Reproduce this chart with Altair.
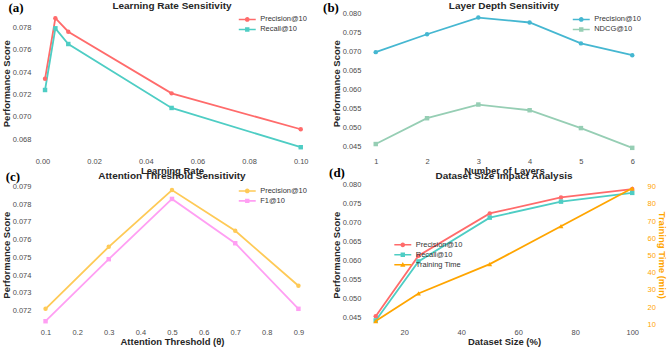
import altair as alt
import pandas as pd

# ---------------- data ----------------
lr_values = [0.001, 0.005, 0.01, 0.05, 0.1]
lr_precision = [0.0734, 0.0788, 0.0776, 0.0721, 0.0689]
lr_recall = [0.0724, 0.0779, 0.0765, 0.0708, 0.0673]

layers = [1, 2, 3, 4, 5, 6]
layer_precision = [0.0699, 0.0746, 0.0790, 0.0777, 0.0722, 0.0691]
layer_ndcg = [0.0457, 0.0525, 0.0561, 0.0546, 0.0499, 0.0447]

thresholds = [0.1, 0.3, 0.5, 0.7, 0.9]
thr_precision = [0.0721, 0.0756, 0.0788, 0.0765, 0.0734]
thr_f1 = [0.0714, 0.0749, 0.0783, 0.0758, 0.0721]

sizes = [10, 25, 50, 75, 100]
size_precision = [0.0454, 0.0613, 0.0724, 0.0766, 0.0788]
size_recall = [0.0443, 0.0598, 0.0713, 0.0755, 0.0778]
train_time = [12, 28, 45, 67, 89]

titles = ["Learning Rate Sensitivity", "Layer Depth Sensitivity",
          "Attention Threshold Sensitivity", "Dataset Size Impact Analysis"]
panel_labels = ["(a)", "(b)", "(c)", "(d)"]

FONT = "Liberation Sans"
W_L, W_R, H = 279, 283, 144

LINE_CIRCLE = "M-2.125,-0.2H2.125V0.2H-2.125Z M0.6,0A0.6,0.6 0 1,1 -0.6,0A0.6,0.6 0 1,1 0.6,0Z"
LINE_SQUARE = "M-2.125,-0.2H2.125V0.2H-2.125Z M-0.55,-0.55H0.55V0.55H-0.55Z"
LINE_TRI = "M-2.125,-0.2H2.125V0.2H-2.125Z M0,-0.7L0.65,0.5H-0.65Z"


def long_df(x, series_dict):
    rows = []
    for name, vals in series_dict.items():
        for xv, yv in zip(x, vals):
            rows.append({"x": xv, "y": yv, "series": name, "lg": name})
    return pd.DataFrame(rows)


def base_layers(df, xenc, yenc, names, colors, shapes):
    cscale = alt.Scale(domain=names, range=colors)
    line = alt.Chart(df).mark_line(strokeWidth=1.8).encode(
        x=xenc, y=yenc,
        color=alt.Color("series:N", scale=cscale, legend=None),
    )
    pts = alt.Chart(df).mark_point(filled=True, opacity=1, size=20).encode(
        x=xenc, y=yenc,
        color=alt.Color("series:N", scale=cscale, legend=None),
        shape=alt.Shape("series:N", scale=alt.Scale(domain=names, range=shapes), legend=None),
    )
    return alt.layer(line, pts)


def legend_layer(df, names, colors, paths, legend):
    return alt.Chart(df).transform_filter("false").mark_point(filled=True, opacity=1).encode(
        color=alt.Color("lg:N", scale=alt.Scale(domain=names, range=colors), legend=legend),
        shape=alt.Shape("lg:N", scale=alt.Scale(domain=names, range=paths), legend=legend),
    )


def label_layer(text, dx, dy):
    return alt.Chart(pd.DataFrame({"lab": [text]})).mark_text(
        font="Liberation Serif", fontSize=13, fontWeight="bold", color="black",
        align="center", baseline="alphabetic",
    ).encode(text="lab:N", x=alt.value(dx), y=alt.value(dy))


def title_layer(text, width, dy):
    return alt.Chart(pd.DataFrame({"t": [text]})).mark_text(
        font=FONT, fontSize=10, fontWeight="bold", color="#262626",
        align="center", baseline="alphabetic",
    ).encode(text="t:N", x=alt.value(width / 2), y=alt.value(dy))


def yaxis(values, fmt, title="Performance Score"):
    return alt.Axis(values=values, format=fmt, title=title)


def leg_tr():
    return alt.Legend(orient="top-right", offset=4, title=None)


# ---------------- panel (a) ----------------
names_a = ["Precision@10", "Recall@10"]
colors_a = ["#FF6B6B", "#4ECDC4"]
df_a = long_df(lr_values, {"Precision@10": lr_precision, "Recall@10": lr_recall})
xa = alt.X("x:Q", scale=alt.Scale(domain=[-0.0037, 0.104], nice=False, zero=False),
           axis=alt.Axis(values=[0, 0.02, 0.04, 0.06, 0.08, 0.10], format=".2f", title="Learning Rate"))
ya = alt.Y("y:Q", scale=alt.Scale(domain=[0.0666, 0.0794], nice=False, zero=False),
           axis=yaxis([0.068, 0.070, 0.072, 0.074, 0.076, 0.078], ".3f"))
pa = alt.layer(
    base_layers(df_a, xa, ya, names_a, colors_a, ["circle", "square"]),
    legend_layer(df_a, names_a, colors_a, [LINE_CIRCLE, LINE_SQUARE], leg_tr()),
    label_layer(panel_labels[0], -17, 1),
    title_layer(titles[0], W_L, -2.5),
).resolve_scale(color="independent", shape="independent").resolve_legend(
    color="independent", shape="independent"
).properties(width=W_L, height=H)

# ---------------- panel (b) ----------------
names_b = ["Precision@10", "NDCG@10"]
colors_b = ["#45B7D1", "#96CEB4"]
df_b = long_df(layers, {"Precision@10": layer_precision, "NDCG@10": layer_ndcg})
xb = alt.X("x:Q", scale=alt.Scale(domain=[0.75, 6.25], nice=False, zero=False),
           axis=alt.Axis(values=layers, format="d", title="Number of Layers"))
yb = alt.Y("y:Q", scale=alt.Scale(domain=[0.0428, 0.0806], nice=False, zero=False),
           axis=yaxis([0.045, 0.050, 0.055, 0.060, 0.065, 0.070, 0.075, 0.080], ".3f"))
pb = alt.layer(
    base_layers(df_b, xb, yb, names_b, colors_b, ["circle", "square"]),
    legend_layer(df_b, names_b, colors_b, [LINE_CIRCLE, LINE_SQUARE], leg_tr()),
    label_layer(panel_labels[1], -32, 1),
    title_layer(titles[1], W_R, -2.5),
).resolve_scale(color="independent", shape="independent").resolve_legend(
    color="independent", shape="independent"
).properties(width=W_R, height=H)

# ---------------- panel (c) ----------------
names_c = ["Precision@10", "F1@10"]
colors_c = ["#FECA57", "#FF9FF3"]
df_c = long_df(thresholds, {"Precision@10": thr_precision, "F1@10": thr_f1})
xc = alt.X("x:Q", scale=alt.Scale(domain=[0.06, 0.94], nice=False, zero=False),
           axis=alt.Axis(values=[0.1, 0.2, 0.3, 0.4, 0.5, 0.6, 0.7, 0.8, 0.9], format=".1f",
                         title="Attention Threshold (θ)"))
yc = alt.Y("y:Q", scale=alt.Scale(domain=[0.0711, 0.0792], nice=False, zero=False),
           axis=yaxis([0.072, 0.073, 0.074, 0.075, 0.076, 0.077, 0.078, 0.079], ".3f"))
pc = alt.layer(
    base_layers(df_c, xc, yc, names_c, colors_c, ["circle", "square"]),
    legend_layer(df_c, names_c, colors_c, [LINE_CIRCLE, LINE_SQUARE], leg_tr()),
    label_layer(panel_labels[2], -20, -2),
    title_layer(titles[2], W_L, -4),
).resolve_scale(color="independent", shape="independent").resolve_legend(
    color="independent", shape="independent"
).properties(width=W_L, height=H)

# ---------------- panel (d) ----------------
names_d = ["Precision@10", "Recall@10", "Training Time"]
colors_d = ["#FF6B6B", "#4ECDC4", "#FFA500"]
df_d = long_df(sizes, {"Precision@10": size_precision, "Recall@10": size_recall})
df_t = long_df(sizes, {"Training Time": train_time})
xd = alt.X("x:Q", scale=alt.Scale(domain=[5.5, 104.5], nice=False, zero=False),
           axis=alt.Axis(values=[20, 40, 60, 80, 100], format="d", title="Dataset Size (%)"))
yd = alt.Y("y:Q", scale=alt.Scale(domain=[0.0427, 0.0804], nice=False, zero=False),
           axis=yaxis([0.045, 0.050, 0.055, 0.060, 0.065, 0.070, 0.075, 0.080], ".3f"))
yt = alt.Y("y:Q", scale=alt.Scale(domain=[8.8, 92.1], nice=False, zero=False),
           axis=alt.Axis(orient="right", values=[10, 20, 30, 40, 50, 60, 70, 80, 90], format="d",
                         title="Training Time (min)", titleColor="#FFA500", labelColor="#FFA500",
                         grid=False))
cscale_d = alt.Scale(domain=names_d, range=colors_d)
left_d = alt.layer(
    alt.Chart(df_d).mark_line(strokeWidth=1.8).encode(
        x=xd, y=yd, color=alt.Color("series:N", scale=cscale_d, legend=None)),
    alt.Chart(df_d).mark_point(filled=True, opacity=1, size=20).encode(
        x=xd, y=yd, color=alt.Color("series:N", scale=cscale_d, legend=None),
        shape=alt.Shape("series:N", scale=alt.Scale(domain=names_d[:2], range=["circle", "square"]),
                        legend=None)),
)
right_d = alt.layer(
    alt.Chart(df_t).mark_line(strokeWidth=1.8).encode(
        x=xd, y=yt, color=alt.Color("series:N", scale=cscale_d, legend=None)),
    alt.Chart(df_t).mark_point(filled=True, opacity=1, size=24, shape="triangle-up").encode(
        x=xd, y=yt, color=alt.Color("series:N", scale=cscale_d, legend=None)),
)
pd_chart = alt.layer(
    left_d, right_d,
    legend_layer(pd.concat([df_d, df_t]), names_d, colors_d, [LINE_CIRCLE, LINE_SQUARE, LINE_TRI],
                 alt.Legend(orient="none", legendX=36, legendY=58, title=None)),
    label_layer(panel_labels[3], -26, -6),
    title_layer(titles[3], W_R, -4),
).resolve_scale(y="independent", color="independent", shape="independent").resolve_legend(
    color="independent", shape="independent"
).properties(width=W_R, height=H)

chart = alt.concat(
    pa, pb, pc, pd_chart, columns=2,
    spacing={"row": 28, "column": 52}, bounds="flush",
).resolve_scale(color="independent", shape="independent").properties(
    padding=0, background="white"
).configure(font=FONT).configure_view(
    fill="#EAEAF2", stroke="transparent"
).configure_axis(
    domain=False, ticks=False, grid=True, gridColor="white", gridWidth=1,
    labelFont=FONT, labelFontSize=7.5, labelColor="#4d4d4d", labelPadding=2,
    labelFlush=False, labelOverlap=False,
    titleFont=FONT, titleFontSize=9.5, titleFontWeight="bold", titleColor="#262626", titlePadding=1,
).configure_legend(
    labelFont=FONT, labelFontSize=7.5, labelColor="#333333", symbolSize=64,
    labelOffset=9, rowPadding=2, padding=0, symbolStrokeWidth=0,
)

chart.save("out.html", embed_options={"renderer": "svg", "actions": False})
